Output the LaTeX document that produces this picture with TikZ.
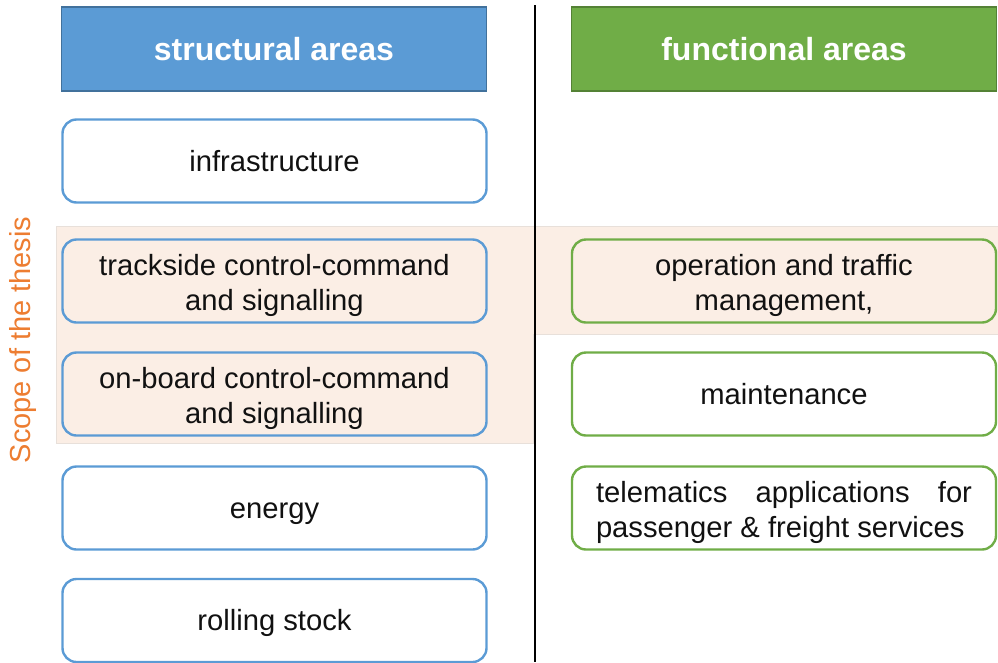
\documentclass[tikz,border=0pt]{standalone}
\usepackage{fontspec}
\setmainfont{Liberation Sans}
\definecolor{hblue}{HTML}{5B9BD5}
\definecolor{hblueb}{HTML}{41719C}
\definecolor{hgreen}{HTML}{70AD47}
\definecolor{hgreenb}{HTML}{548235}
\definecolor{scopebg}{HTML}{FBEEE5}
\definecolor{scopebd}{HTML}{E8E0DA}
\definecolor{scopetxt}{HTML}{ED7D31}
\definecolor{txt}{HTML}{111111}
\newcommand\bst{\rule[-6.2pt]{0pt}{32.6pt}}
\newcommand\mst{\rule[-6.2pt]{0pt}{36.6pt}}
\newcommand\hst{\rule[-6.8pt]{0pt}{35.8pt}}
\begin{document}
\begin{tikzpicture}[x=1pt,y=-1pt,
  header/.style={draw, line width=1.8pt, minimum width=425pt, minimum height=84pt,
    font=\fontsize{32}{38}\selectfont\bfseries, text=white, inner sep=0pt},
  sbox/.style={draw=hblue, line width=2.4pt, rounded corners=14pt, minimum width=424pt,
    minimum height=83pt, align=center, font=\fontsize{29.2}{35}\selectfont, text=txt, inner sep=0pt},
  fbox/.style={sbox, draw=hgreen},
]
\useasboundingbox (0,0) rectangle (998,662);
% shaded scope band
\fill[scopebg, draw=scopebd, line width=0.8pt] (56,226) -- (998,226) -- (998,334) -- (533,334) -- (533,443) -- (56,443) -- cycle;
% divider
\coordinate (vtop) at (535,5);
\coordinate (vbot) at (535,662);
\draw[line width=1.4pt] (vtop) -- (vbot);
% headers
\node[header, fill=hblue, draw=hblueb] (hs) at (274,49) {\hst structural areas};
\node[header, fill=hgreen, draw=hgreenb] (hf) at (784,49) {\hst functional areas};
% structural boxes
\node[sbox, fill=white] (infra) at (274.5,161) {\bst infrastructure};
\node[sbox] (track) at (274.5,281) {\mst trackside control-command\\\bst and signalling};
\node[sbox] (onboard) at (274.5,394) {\mst on-board control-command\\\bst and signalling};
\node[sbox, fill=white] (energy) at (274.5,508) {\bst energy};
\node[sbox, fill=white] (rolling) at (274.5,620.5) {\bst rolling stock};
% functional boxes
\node[fbox] (oper) at (784,281) {\mst operation and traffic\\\bst management,};
\node[fbox, fill=white] (maint) at (784,394) {\bst maintenance};
\node[fbox, fill=white] (tele) at (784,508) {\parbox{376pt}{\fontsize{29.2}{35}\selectfont\mst telematics\hfill applications\hfill for\\\bst passenger \& freight services}};
% scope label
\node[rotate=90, text=scopetxt, font=\fontsize{29}{35}\selectfont, inner sep=0pt] (scope) at (23,340) {Scope of the thesis};
\end{tikzpicture}
\end{document}
